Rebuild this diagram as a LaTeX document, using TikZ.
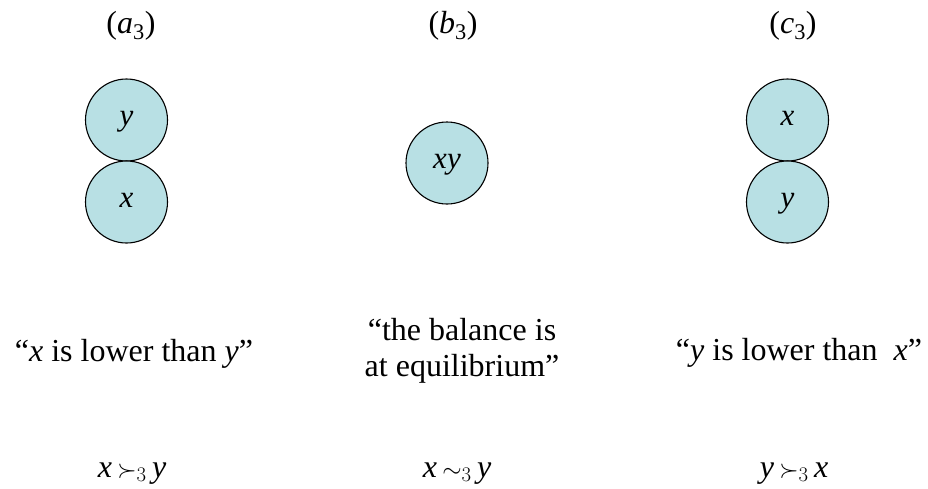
\documentclass[tikz,border=0pt]{standalone}
\usepackage{fontspec}
\setmainfont{Liberation Serif}
\definecolor{ballfill}{RGB}{184,224,228}
\begin{document}
\begin{tikzpicture}[x=1pt,y=-1pt,
  ball/.style={circle,draw=black,line width=1.1pt,fill=ballfill,minimum size=82pt,inner sep=0pt,text height=10pt,text depth=0pt,font=\fontsize{31}{34}\selectfont\itshape},
  lbl/.style={font=\fontsize{32}{36}\selectfont,inner sep=0pt,align=center,anchor=base}]
\useasboundingbox (0,0) rectangle (928,488);
\node[lbl] (ta) at (131,33) {(\textit{a}\textsubscript{3})};
\node[lbl] (tb) at (453,33) {(\textit{b}\textsubscript{3})};
\node[lbl] (tc) at (793,33) {(\textit{c}\textsubscript{3})};
\node[ball] (ay) at (126.5,120) {y};
\node[ball] (ax) at (126.5,202) {x};
\node[ball] (bxy) at (447,163) {xy};
\node[ball] (cx) at (787.5,120) {x};
\node[ball] (cy) at (787.5,202) {y};
\node[lbl] (capa) at (134,361) {“\textit{x} is lower than \textit{y}”};
\node[lbl,anchor=north] (capb) at (462,318) {“the balance is\\at equilibrium”};
\node[lbl] (capc) at (799,360) {“\textit{y} is lower than \ \textit{x}”};
\node[lbl] (rela) at (132,477) {\textit{x}\,$\succ_3$\,\textit{y}};
\node[lbl] (relb) at (457,477) {\textit{x}\,$\sim_3$\,\textit{y}};
\node[lbl] (relc) at (794,477) {\textit{y}\,$\succ_3$\,\textit{x}};
\end{tikzpicture}
\end{document}
